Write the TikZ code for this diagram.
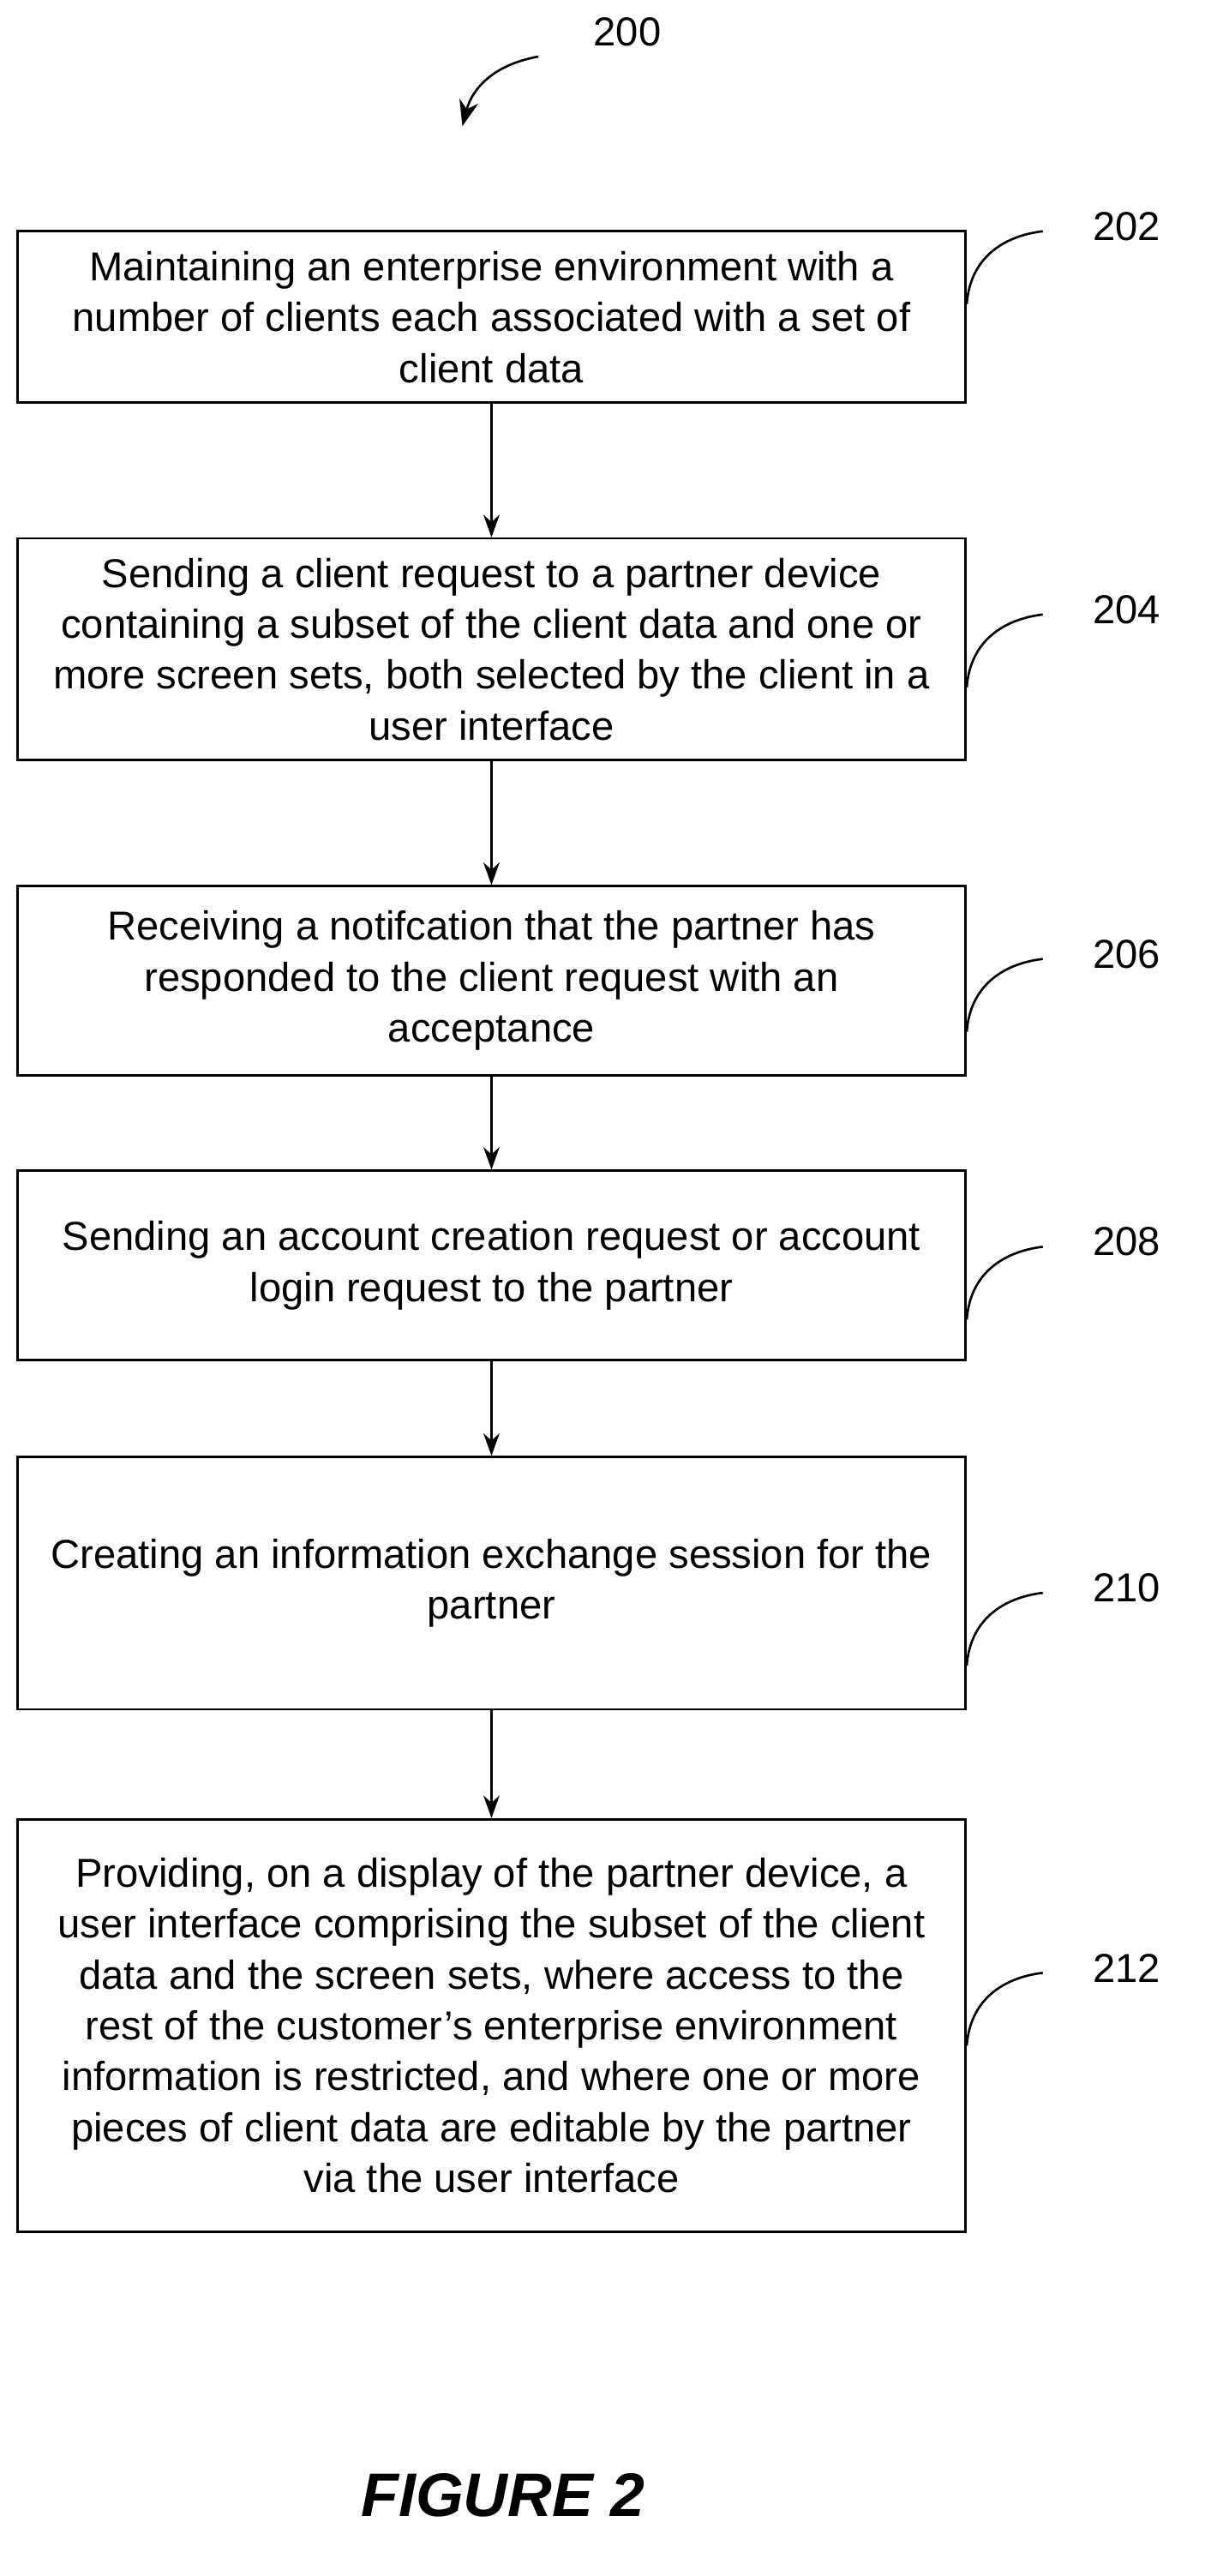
\documentclass[tikz,border=0pt]{standalone}
\usepackage{fontspec}
\setmainfont{Liberation Sans}
\usetikzlibrary{arrows.meta}
\tikzset{
  stepbox/.style={draw, line width=1.4pt, minimum width=586pt, align=center,
    font=\fontsize{25}{31.5}\selectfont},
  flow/.style={line width=1.4pt, -{Stealth[length=14pt,width=10pt]}},
  tag/.style={font=\fontsize{25}{28}\selectfont},
  hook/.style={line width=1.4pt}
}
\begin{document}
\begin{tikzpicture}[x=1pt,y=-1pt]
\useasboundingbox (0,0) rectangle (745,1593);
% steps
\node[stepbox, minimum height=106pt] (s202) at (304,196) {Maintaining an enterprise environment with a\\number of clients each associated with a set of\\client data};
\node[stepbox, minimum height=137pt] (s204) at (304,401.5) {Sending a client request to a partner device\\containing a subset of the client data and one or\\more screen sets, both selected by the client in a\\user interface};
\node[stepbox, minimum height=117pt] (s206) at (304,606.5) {Receiving a notifcation that the partner has\\responded to the client request with an\\acceptance};
\node[stepbox, minimum height=117pt] (s208) at (304,782.5) {Sending an account creation request or account\\login request to the partner};
\node[stepbox, minimum height=156pt] (s210) at (304,979) {Creating an information exchange session for the\\partner};
\node[stepbox, minimum height=255pt] (s212) at (304,1252.5) {Providing, on a display of the partner device, a\\user interface comprising the subset of the client\\data and the screen sets, where access to the\\rest of the customer's enterprise environment\\information is restricted, and where one or more\\pieces of client data are editable by the partner\\via the user interface};
% arrows
\foreach \a/\b in {s202/s204, s204/s206, s206/s208, s208/s210, s210/s212}
  \draw[flow] (\a) -- (\b);
% reference numerals
\foreach \n/\y in {202/140, 204/377, 206/590, 208/768, 210/982, 212/1217}{
  \node[tag] (t\n) at (697,\y) {\n};
  \draw[hook] (598,\y+48) .. controls (600,\y+20) and (620,\y+6) .. (645,\y+3);
}
\node[tag] (t200) at (388,20) {200};
\coordinate (c200) at (333,35);
\draw[line width=1.4pt, -{Stealth[length=16pt,width=12pt]}] (c200) .. controls (305,40) and (292,55) .. (286,78);
\node[font=\fontsize{38}{40}\selectfont\bfseries\itshape] (fig) at (311,1543) {FIGURE 2};
\end{tikzpicture}
\end{document}
